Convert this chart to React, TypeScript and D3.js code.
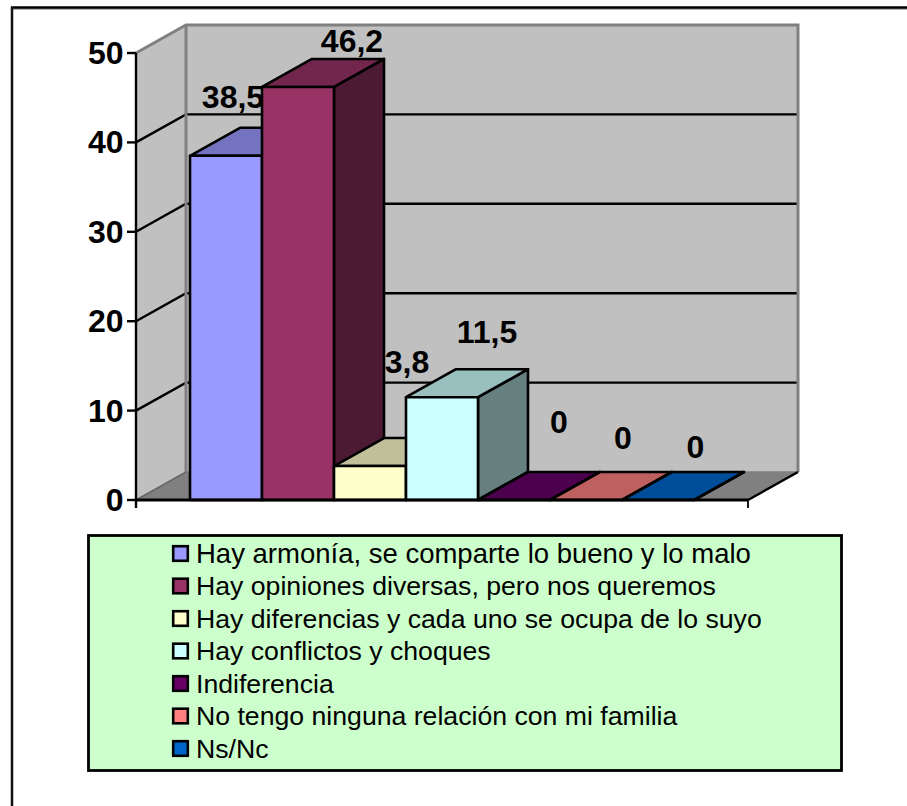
import React from "react";
import * as d3 from "d3";

const categories = [
  "Hay armonía, se comparte lo bueno y lo malo",
  "Hay opiniones diversas, pero nos queremos",
  "Hay diferencias y cada uno se ocupa de lo suyo",
  "Hay conflictos y choques",
  "Indiferencia",
  "No tengo ninguna relación con mi familia",
  "Ns/Nc",
];
const values = [38.5, 46.2, 3.8, 11.5, 0, 0, 0];
const valueLabels = ["38,5", "46,2", "3,8", "11,5", "0", "0", "0"];
const colors = ["#9999ff", "#993366", "#ffffcc", "#ccffff", "#660066", "#ff8080", "#0066cc"];
const yTicks = [0, 10, 20, 30, 40, 50];
const labelAnchors: [number, number][] = [
  [233, 108], [352, 52], [407, 373], [487, 343], [559, 433], [623, 449], [695.5, 458],
];

const FONT = "'Liberation Sans', Arial, sans-serif";
const W = 907, H = 806;
const DX = 50, DY = -28;
const x0 = 136, x1 = 748, yBase = 500, yTop = 53;

const y = d3.scaleLinear().domain([0, 50]).range([yBase, yTop]);
const x = d3.scaleBand<number>().domain(d3.range(values.length)).range([190, 694]);
const poly = (pts: [number, number][]) => pts.map((p) => p.join(",")).join(" ");
const shade = (c: string, k: number) => {
  const r = d3.rgb(c);
  return d3.rgb(r.r * k, r.g * k, r.b * k).formatHex();
};

export default function App() {
  return (
    <svg width={W} height={H} viewBox={`0 0 ${W} ${H}`} style={{ position: "absolute", left: 0, top: 0, display: "block", fontFamily: FONT }}>
      <rect width={W} height={H} fill="#ffffff" />
      {/* outer frame */}
      <line x1={12} y1={9} x2={W} y2={9} stroke="#999999" strokeWidth={1.5} />
      <line x1={11} y1={7.5} x2={W} y2={7.5} stroke="#000000" strokeWidth={2.5} />
      <line x1={12} y1={7} x2={12} y2={H} stroke="#111111" strokeWidth={2.5} />

      {/* walls */}
      <polygon points={poly([[x0, yTop], [x0 + DX, yTop + DY], [x0 + DX, yBase + DY], [x0, yBase]])} fill="#c0c0c0" />
      <polygon points={poly([[x0 + DX, yTop + DY], [x1 + DX, yTop + DY], [x1 + DX, yBase + DY], [x0 + DX, yBase + DY]])} fill="#c0c0c0" />
      <polygon points={poly([[x0, yBase], [x0 + DX, yBase + DY], [x1 + DX, yBase + DY], [x1, yBase]])} fill="#808080" />

      {/* gridlines */}
      {yTicks.filter((t) => t > 0 && t < 50).map((t) => (
        <polyline key={t} points={poly([[x0, y(t)], [x0 + DX, y(t) + DY], [x1 + DX, y(t) + DY]])} fill="none" stroke="#000000" strokeWidth={2.4} />
      ))}
      <polyline points={poly([[x0, yTop], [x0 + DX, yTop + DY], [x1 + DX, yTop + DY], [x1 + DX, yBase + DY]])} fill="none" stroke="#808080" strokeWidth={3} />
      <line x1={x0 + DX} y1={yTop + DY} x2={x0 + DX} y2={yBase + DY} stroke="#808080" strokeWidth={3} />
      <line x1={x0} y1={yBase} x2={x0 + DX} y2={yBase + DY} stroke="#666666" strokeWidth={1.5} />
      <line x1={x0 + DX} y1={yBase + DY} x2={x1 + DX} y2={yBase + DY} stroke="#808080" strokeWidth={1.5} />
      <line x1={x1} y1={yBase} x2={x1 + DX} y2={yBase + DY} stroke="#000000" strokeWidth={2.4} />

      {/* bars, each followed by its data label so the next bar can overlap it */}
      {values.map((v, i) => {
        const bx0 = x(i)!;
        const bx1 = bx0 + x.bandwidth();
        const by = y(v);
        const c = colors[i];
        return (
          <g key={i}>
            <g stroke="#000000" strokeWidth={2.6} strokeLinejoin="round">
              <polygon points={poly([[bx1, by], [bx1 + DX, by + DY], [bx1 + DX, yBase + DY], [bx1, yBase]])} fill={shade(c, 0.5)} />
              <polygon points={poly([[bx0, by], [bx0 + DX, by + DY], [bx1 + DX, by + DY], [bx1, by]])} fill={shade(c, 0.75)} />
              {v > 0 && <rect x={bx0} y={by} width={x.bandwidth()} height={yBase - by} fill={c} />}
            </g>
            <text x={labelAnchors[i][0]} y={labelAnchors[i][1]} textAnchor="middle" fontSize={32} fontWeight={700} fill="#000000">{valueLabels[i]}</text>
          </g>
        );
      })}

      {/* axes */}
      <line x1={x0} y1={yTop} x2={x0} y2={yBase + 8} stroke="#000000" strokeWidth={2.4} />
      <line x1={x0} y1={yBase} x2={x1} y2={yBase} stroke="#000000" strokeWidth={3} />
      <line x1={x1} y1={yBase} x2={x1} y2={yBase + 8} stroke="#000000" strokeWidth={1.8} />
      {yTicks.map((t) => (
        <g key={t}>
          <line x1={x0 - 9} y1={y(t)} x2={x0} y2={y(t)} stroke="#000000" strokeWidth={2.4} />
          <text x={x0 - 12.5} y={y(t) + 11} textAnchor="end" fontSize={32} fontWeight={700} fill="#000000">{t}</text>
        </g>
      ))}

      {/* legend */}
      <rect x={88.5} y={535.5} width={753} height={235} fill="#ccffcc" stroke="#000000" strokeWidth={2.8} />
      {categories.map((c, i) => {
        const cy = 553.5 + i * 32.5;
        return (
          <g key={i}>
            <rect x={173.2} y={cy - 7.3} width={14.6} height={14.6} fill={colors[i]} stroke="#000000" strokeWidth={2.6} />
            <text x={196} y={cy + 9} fontSize={i === 0 ? 27.5 : 26.65} fill="#000000">{c}</text>
          </g>
        );
      })}
    </svg>
  );
}
